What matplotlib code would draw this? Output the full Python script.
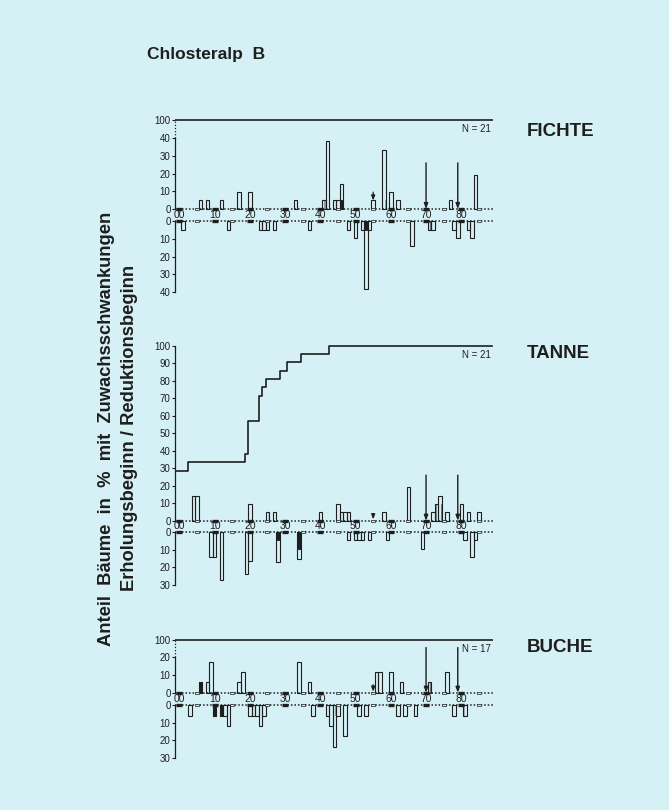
import matplotlib
matplotlib.use('Agg')
import matplotlib.pyplot as plt
from matplotlib.path import Path

plt.rcParams['font.family'] = ['Liberation Sans', 'DejaVu Sans']

BG = '#d6f1f6'
INK = '#1e1e1e'
HATCH = '#6f7f82'

TITLE = 'Chlosteralp  B'
YLABEL_1 = 'Anteil  Bäume  in  %  mit  Zuwachsschwankungen'
YLABEL_2 = 'Erholungsbeginn / Reduktionsbeginn'
SPECIES = ['FICHTE', 'TANNE', 'BUCHE']
N_TREES = [21, 21, 17]
DECADES = [0, 10, 20, 30, 40, 50, 60, 70, 80]
DECADE_LABELS = ['00', '10', '20', '30', '40', '50', '60', '70', '80']
HALF_DECADES = [5, 15, 25, 35, 45, 55, 65, 75, 85]
ARROW_YEARS = [70, 79]
SMALL_ARROW_YEAR = 55

# ---------------- FICHTE (N=21) ----------------
FI_UP_YEARS = [6, 8, 12, 17, 20, 33, 41, 42, 44, 45, 46, 55, 58, 60, 62, 77, 84]
FI_UP_VALS = [4.8, 4.8, 4.8, 9.5, 9.5, 4.8, 4.8, 38.1, 4.8, 4.8, 14.3, 4.8, 33.3, 9.5, 4.8, 4.8, 19.0]
FI_UP_BLACK_YEARS = [46]
FI_UP_BLACK_VALS = [4.8]
FI_UP_HATCH_YEARS = [41, 42, 58]
FI_UP_HATCH_VALS = [4.8, 4.8, 4.8]
FI_DN_YEARS = [1, 14, 23, 24, 25, 27, 37, 48, 50, 52, 53, 54, 66, 71, 72, 78, 79, 82, 83]
FI_DN_VALS = [4.8, 4.8, 4.8, 4.8, 4.8, 4.8, 4.8, 4.8, 9.5, 4.8, 38.1, 4.8, 14.3, 4.8, 4.8, 4.8, 9.5, 4.8, 9.5]
FI_DN_BLACK_YEARS = [53]
FI_DN_BLACK_VALS = [4.8]
FI_DN_HATCH_YEARS = [71, 72]
FI_DN_HATCH_VALS = [4.8, 4.8]

# ---------------- TANNE (N=21) ----------------
TA_CUM_YEARS = [0, 3, 19, 20, 23, 24, 25, 29, 31, 35, 43]
TA_CUM_VALS = [28.6, 33.3, 38.1, 57.1, 71.4, 76.2, 81.0, 85.7, 90.5, 95.2, 100.0]
TA_UP_YEARS = [4, 5, 20, 25, 27, 40, 45, 46, 47, 48, 58, 65, 72, 73, 74, 76, 80, 82, 85]
TA_UP_VALS = [14.3, 14.3, 9.5, 4.8, 4.8, 4.8, 9.5, 4.8, 4.8, 4.8, 4.8, 19.0, 4.8, 9.5, 14.3, 4.8, 9.5, 4.8, 4.8]
TA_UP_BLACK_YEARS = []
TA_UP_BLACK_VALS = []
TA_UP_HATCH_YEARS = [20, 25, 73, 74]
TA_UP_HATCH_VALS = [9.5, 4.8, 9.5, 9.5]
TA_DN_YEARS = [9, 10, 12, 19, 20, 28, 34, 48, 50, 51, 52, 54, 59, 69, 81, 83, 84]
TA_DN_VALS = [14.3, 14.3, 27.5, 24.0, 16.5, 17.0, 15.5, 4.8, 4.8, 4.8, 4.8, 4.8, 4.8, 9.5, 4.8, 14.3, 4.8]
TA_DN_BLACK_YEARS = [28, 34]
TA_DN_BLACK_VALS = [4.8, 9.5]
TA_DN_HATCH_YEARS = [20, 83]
TA_DN_HATCH_VALS = [16.5, 4.8]

# ---------------- BUCHE (N=17) ----------------
BU_UP_YEARS = [6, 8, 9, 17, 18, 34, 37, 56, 57, 60, 63, 71, 76]
BU_UP_VALS = [5.9, 5.9, 17.6, 5.9, 11.8, 17.6, 5.9, 11.8, 11.8, 11.8, 5.9, 5.9, 11.8]
BU_UP_BLACK_YEARS = [6]
BU_UP_BLACK_VALS = [5.9]
BU_UP_HATCH_YEARS = [71]
BU_UP_HATCH_VALS = [5.9]
BU_DN_YEARS = [3, 10, 12, 13, 14, 20, 21, 22, 23, 24, 38, 42, 43, 44, 45, 47, 51, 53, 62, 64, 67, 78, 81]
BU_DN_VALS = [5.9, 5.9, 5.9, 5.9, 11.8, 5.9, 5.9, 5.9, 11.8, 5.9, 5.9, 5.9, 11.8, 23.5, 5.9, 17.6,
              5.9, 5.9, 5.9, 5.9, 5.9, 5.9, 5.9]
BU_DN_BLACK_YEARS = [10, 12]
BU_DN_BLACK_VALS = [5.9, 5.9]
BU_DN_HATCH_YEARS = [44, 81]
BU_DN_HATCH_VALS = [5.9, 5.9]

# ---------------- layout ----------------
FIG_W, FIG_H = 669, 810
X0_PX, X_SCALE = 179.3, 3.525
XMIN, XMAX = -1.1, 89.0

HALF_MARK = Path([(-1, -0.45), (1, -0.45), (1, 0.45), (-1, 0.45), (-1, -0.45)],
                 [Path.MOVETO, Path.LINETO, Path.LINETO, Path.LINETO, Path.CLOSEPOLY])

fig = plt.figure(figsize=(FIG_W / 100, FIG_H / 100), dpi=100, facecolor=BG)


def make_ax(y0_px, yscale, ytop, ybot):
    left = X0_PX + XMIN * X_SCALE
    right = X0_PX + XMAX * X_SCALE
    top_px = y0_px - ytop * yscale
    bot_px = y0_px - ybot * yscale
    ax = fig.add_axes([left / FIG_W, 1 - bot_px / FIG_H,
                       (right - left) / FIG_W, (bot_px - top_px) / FIG_H])
    ax.set_xlim(XMIN, XMAX)
    ax.set_ylim(ybot, ytop)
    ax.set_facecolor('none')
    for s in ax.spines.values():
        s.set_visible(False)
    ax.set_xticks([])
    ax.tick_params(axis='y', length=2.5, width=0.8, pad=1, labelsize=7,
                   colors=INK, direction='out')
    return ax


def draw_bars(ax, years, vals, gap, down, **kw):
    if not years:
        return
    if down:
        ax.bar(years, [-v for v in vals], bottom=-gap, width=1.0, align='center', **kw)
    else:
        ax.bar(years, vals, bottom=0, width=1.0, align='center', **kw)


def draw_series(ax, gap, down, years, vals, byears, bvals, hyears, hvals):
    draw_bars(ax, hyears, hvals, gap, down, facecolor='none', edgecolor=HATCH,
              hatch='|||', linewidth=0, zorder=2)
    draw_bars(ax, byears, bvals, gap, down, facecolor=INK, edgecolor=INK,
              linewidth=0.6, zorder=3)
    draw_bars(ax, years, vals, gap, down, facecolor='none', edgecolor=INK,
              linewidth=0.8, zorder=4)


def draw_axis_band(ax, gap):
    for yb in (0, -gap):
        ax.plot([XMIN, XMAX], [yb, yb], color=INK, lw=1.1, ls=(0, (1.0, 1.3)),
                zorder=5, solid_capstyle='butt')
        ax.plot(DECADES, [yb] * len(DECADES), ls='none', marker='_', ms=4.5,
                mew=2.4, color=INK, zorder=6)
        ax.plot(HALF_DECADES, [yb] * len(HALF_DECADES), ls='none', marker=HALF_MARK,
                ms=3.2, mew=0.5, markerfacecolor=BG, markeredgecolor=INK, zorder=6)
    for d, lab in zip(DECADES, DECADE_LABELS):
        ax.text(d, -gap / 2, lab, ha='center', va='center', fontsize=7.5,
                color=INK, zorder=7)


def draw_arrows(ax, long_top, small_top, small_end):
    for yr in ARROW_YEARS:
        ax.annotate('', xy=(yr, 0), xytext=(yr, long_top),
                    arrowprops=dict(arrowstyle='-|>,head_length=0.32,head_width=0.12',
                                    lw=1.0, color=INK, shrinkA=0, shrinkB=0), zorder=8)
    ax.annotate('', xy=(SMALL_ARROW_YEAR, small_end), xytext=(SMALL_ARROW_YEAR, small_top),
                arrowprops=dict(arrowstyle='-|>,head_length=0.28,head_width=0.11',
                                lw=0.9, color=INK, shrinkA=0, shrinkB=0), zorder=8)


def spine(ax, y_from, y_to, dotted=False):
    ax.plot([XMIN, XMIN], [y_from, y_to], color=INK, lw=0.9,
            ls=(0, (1, 1.5)) if dotted else '-', clip_on=False, zorder=5)


# ---------------- FICHTE panel ----------------
G = 6.8
ax = make_ax(209.0, 1.775, 52, -48)
up_ticks = [0, 10, 20, 30, 40, 50]
dn_ticks = [-G - t for t in [0, 10, 20, 30, 40]]
ax.set_yticks(up_ticks + dn_ticks, ['0', '10', '20', '30', '40', '100'] + ['0', '10', '20', '30', '40'])
spine(ax, 0, 40)
spine(ax, 40, 50, dotted=True)
spine(ax, -G, -G - 40)
ax.plot([XMIN, XMAX], [50, 50], color=INK, lw=1.2)
draw_series(ax, G, False, FI_UP_YEARS, FI_UP_VALS, FI_UP_BLACK_YEARS, FI_UP_BLACK_VALS,
            FI_UP_HATCH_YEARS, FI_UP_HATCH_VALS)
draw_series(ax, G, True, FI_DN_YEARS, FI_DN_VALS, FI_DN_BLACK_YEARS, FI_DN_BLACK_VALS,
            FI_DN_HATCH_YEARS, FI_DN_HATCH_VALS)
draw_axis_band(ax, G)
draw_arrows(ax, 26, 9.5, 4.8)
ax.text(88.3, 45, 'N = %d' % N_TREES[0], ha='right', va='center', fontsize=7, color=INK)

# ---------------- TANNE panel ----------------
G = 6.5
ax = make_ax(520.7, 1.75, 103, -38)
up_ticks = list(range(0, 101, 10))
dn_ticks = [-G - t for t in [0, 10, 20, 30]]
ax.set_yticks(up_ticks + dn_ticks, [str(t) for t in range(0, 101, 10)] + ['0', '10', '20', '30'])
spine(ax, 0, 100)
spine(ax, -G, -G - 30)
step_x = [XMIN] + [y - 0.5 for y in TA_CUM_YEARS[1:]] + [XMAX - 0.3]
step_y = TA_CUM_VALS + [TA_CUM_VALS[-1]]
ax.step(step_x, step_y, where='post', color=INK, lw=1.2)
draw_series(ax, G, False, TA_UP_YEARS, TA_UP_VALS, TA_UP_BLACK_YEARS, TA_UP_BLACK_VALS,
            TA_UP_HATCH_YEARS, TA_UP_HATCH_VALS)
draw_series(ax, G, True, TA_DN_YEARS, TA_DN_VALS, TA_DN_BLACK_YEARS, TA_DN_BLACK_VALS,
            TA_DN_HATCH_YEARS, TA_DN_HATCH_VALS)
draw_axis_band(ax, G)
draw_arrows(ax, 26, 4.0, 0.8)
ax.text(88.3, 94.7, 'N = %d' % N_TREES[1], ha='right', va='center', fontsize=7, color=INK)

# ---------------- BUCHE panel ----------------
G = 7.0
ax = make_ax(692.7, 1.77, 32, -38.5)
up_ticks = [0, 10, 20, 30]
dn_ticks = [-G - t for t in [0, 10, 20, 30]]
ax.set_yticks(up_ticks + dn_ticks, ['0', '10', '20', '100'] + ['0', '10', '20', '30'])
spine(ax, 0, 20)
spine(ax, 20, 30, dotted=True)
spine(ax, -G, -G - 30)
ax.plot([XMIN, XMAX], [30, 30], color=INK, lw=1.2)
draw_series(ax, G, False, BU_UP_YEARS, BU_UP_VALS, BU_UP_BLACK_YEARS, BU_UP_BLACK_VALS,
            BU_UP_HATCH_YEARS, BU_UP_HATCH_VALS)
draw_series(ax, G, True, BU_DN_YEARS, BU_DN_VALS, BU_DN_BLACK_YEARS, BU_DN_BLACK_VALS,
            BU_DN_HATCH_YEARS, BU_DN_HATCH_VALS)
draw_axis_band(ax, G)
draw_arrows(ax, 25.5, 4.5, 0.6)
ax.text(88.3, 24.5, 'N = %d' % N_TREES[2], ha='right', va='center', fontsize=7, color=INK)

# ---------------- figure texts ----------------
fig.text(147 / FIG_W, 1 - 55 / FIG_H, TITLE, ha='left', va='center', fontsize=12.5,
         fontweight='bold', color=INK)
for name, ypx in zip(SPECIES, [131, 353, 648]):
    fig.text(527 / FIG_W, 1 - ypx / FIG_H, name, ha='left', va='center', fontsize=13.5,
             fontweight='bold', color=INK)
fig.text(107 / FIG_W, 1 - 429 / FIG_H, YLABEL_1, rotation=90, ha='center', va='center',
         fontsize=13.2, fontweight='bold', color=INK)
fig.text(129 / FIG_W, 1 - 428 / FIG_H, YLABEL_2, rotation=90, ha='center', va='center',
         fontsize=13.2, fontweight='bold', color=INK)

fig.savefig('out.png', dpi=100, facecolor=BG)
